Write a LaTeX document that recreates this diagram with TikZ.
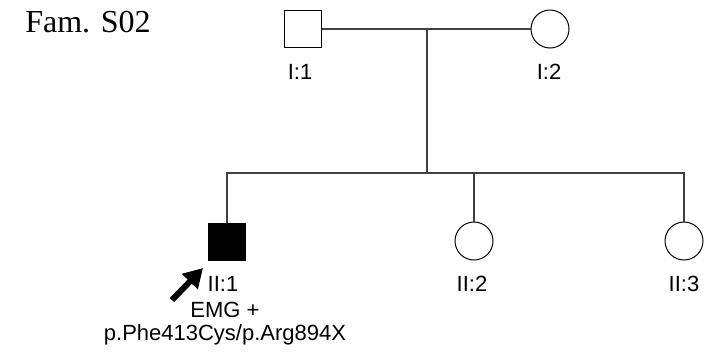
\documentclass[tikz,border=0pt]{standalone}
\usepackage{fontspec}
\setmainfont{Liberation Sans}
\newfontfamily\famfont{Liberation Serif}
\usetikzlibrary{arrows.meta}

\definecolor{linegray}{RGB}{64,64,64}

\begin{document}
\begin{tikzpicture}[x=1pt, y=-1pt,
    male/.style={rectangle, draw=black, line width=1pt, minimum size=37pt, inner sep=0pt},
    female/.style={circle, draw=black, line width=1pt, minimum size=38pt, inner sep=0pt},
    tag/.style={font=\fontsize{22}{26}\selectfont, inner sep=0pt},
    link/.style={linegray, line width=1.6pt}]
    \useasboundingbox (0,0) rectangle (714,354);

    % Family name
    \node[font=\famfont\fontsize{32}{36}\selectfont, inner sep=0pt] (fam) at (88,22) {Fam. S02};

    % Generation I
    \node[male] (I1) at (303,29) {};
    \node[female] (I2) at (550,29) {};
    \node[tag] (tI1) at (300,72) {I:1};
    \node[tag] (tI2) at (549,72) {I:2};
    \coordinate (mate) at (427,29);
    \coordinate (sib) at (427,173);

    % Generation II
    \node[male, fill=black] (II1) at (227,242) {};
    \node[female] (II2) at (474,241) {};
    \node[female] (II3) at (684,241) {};
    \node[tag] (tII1) at (223,284) {II:1};
    \node[tag] (tII2) at (472,284) {II:2};
    \node[tag] (tII3) at (684,284) {II:3};
    \node[tag] (emg) at (225,310) {EMG +};
    \node[tag] (mut) at (225,335) {p.Phe413Cys/p.Arg894X};

    % Lines of descent
    \draw[link] (I1.east) -- (I2.west);
    \draw[link] (mate) -- (sib);
    \draw[link] (II1.north) -- (II1.north |- sib) -- (II3.north |- sib) -- (II3.north);
    \draw[link] (II2.north) -- (II2.north |- sib);

    % Proband
    \coordinate (ptail) at (172,300);
    \coordinate (ptip) at (203,268);
    \draw[line width=6pt, -{Triangle[length=19pt, width=21pt]}] (ptail) -- (ptip);
\end{tikzpicture}
\end{document}
